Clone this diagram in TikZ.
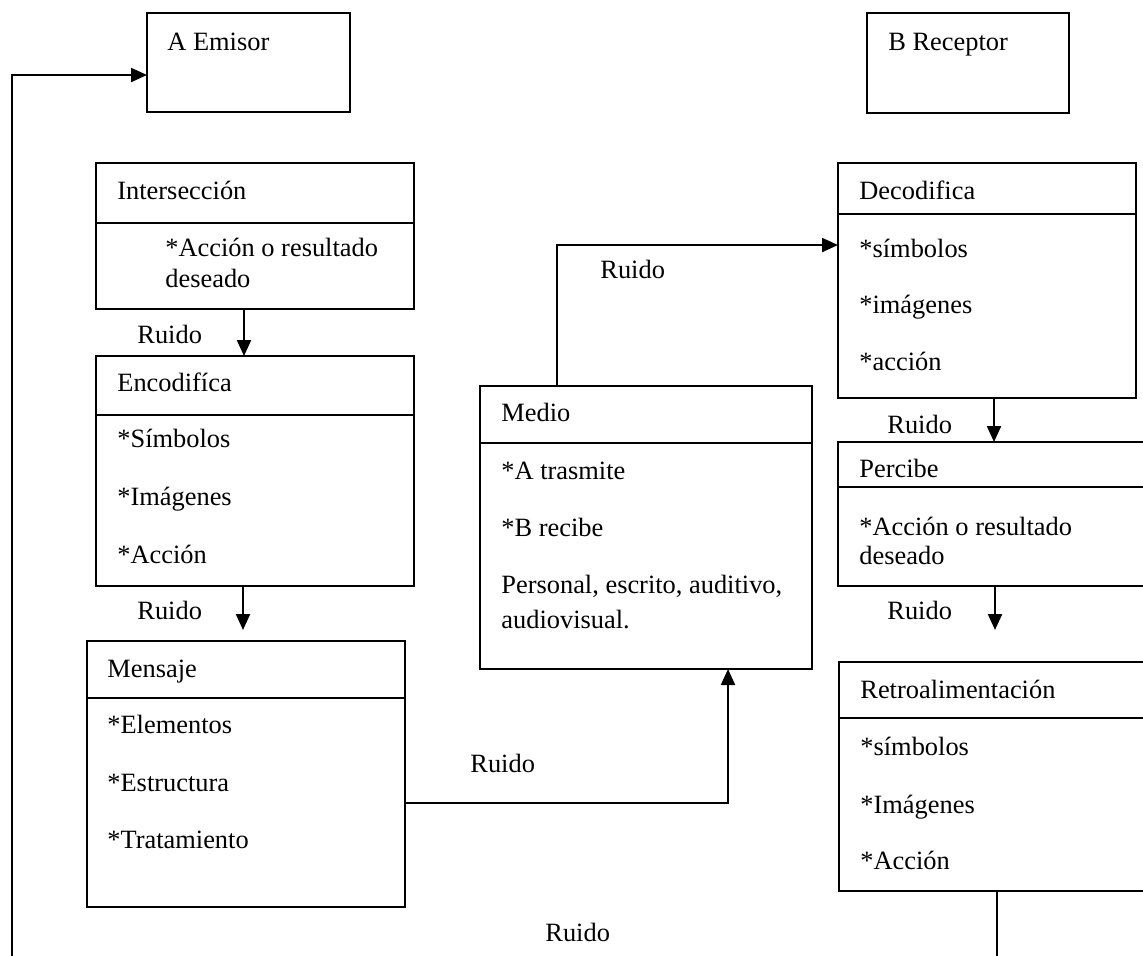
\documentclass[tikz,border=0pt]{standalone}
\usepackage{fontspec}
\setmainfont{Liberation Serif}
\usetikzlibrary{arrows.meta}
\begin{document}
\begin{tikzpicture}[x=0.5pt,y=-0.5pt,
  box/.style={draw, line width=1.1pt, inner sep=0pt, outer sep=0pt, anchor=north west},
  txt/.style={anchor=base west, inner sep=0pt, font=\fontsize{13.2pt}{15pt}\selectfont},
  link/.style={line width=1.1pt},
  arr/.style={link, -{Triangle[length=8pt,width=7pt]}},
  rule/.style={line width=1.1pt}]
\useasboundingbox (0,0) rectangle (1143,955);
\clip (0,0) rectangle (1143,955);

% boxes
\node[box, minimum width=101.5pt, minimum height=49.5pt] (emisor) at (147,13) {};
\node[box, minimum width=101pt, minimum height=50pt] (receptor) at (867,13) {};
\node[box, minimum width=159pt, minimum height=73pt] (inters) at (96,163) {};
\node[box, minimum width=159pt, minimum height=115pt] (encod) at (96,356) {};
\node[box, minimum width=159pt, minimum height=133pt] (mensaje) at (87,641) {};
\node[box, minimum width=166pt, minimum height=141.5pt] (medio) at (480,386) {};
\node[box, minimum width=149pt, minimum height=117.5pt] (decod) at (838,163) {};
\node[box, minimum width=154pt, minimum height=72pt] (percibe) at (838,442) {};
\node[box, minimum width=154pt, minimum height=114.5pt] (retro) at (839,662) {};

% title dividers
\draw[rule] (inters.west |- 0,223) -- (inters.east |- 0,223);
\draw[rule] (encod.west |- 0,415) -- (encod.east |- 0,415);
\draw[rule] (mensaje.west |- 0,698) -- (mensaje.east |- 0,698);
\draw[rule] (medio.west |- 0,443) -- (medio.east |- 0,443);
\draw[rule] (decod.west |- 0,214) -- (decod.east |- 0,214);
\draw[rule] (percibe.west |- 0,487) -- (percibe.east |- 0,487);
\draw[rule] (retro.west |- 0,718) -- (retro.east |- 0,718);

% texts
\node[txt] (tEmisor) at (167,50) {A Emisor};
\node[txt] (tReceptor) at (888,50) {B Receptor};

\node[txt] (tInters) at (117,199) {Intersección};
\node[txt] (tInters1) at (165,256) {*Acción o resultado};
\node[txt] (tInters2) at (165,287) {deseado};

\node[txt] (tEncod) at (117,391) {Encodifíca};
\node[txt] (tEncod1) at (117,447) {*Símbolos};
\node[txt] (tEncod2) at (117,505) {*Imágenes};
\node[txt] (tEncod3) at (117,563) {*Acción};

\node[txt] (tMensaje) at (107,677) {Mensaje};
\node[txt] (tMensaje1) at (107,733) {*Elementos};
\node[txt] (tMensaje2) at (107,791) {*Estructura};
\node[txt] (tMensaje3) at (107,848) {*Tratamiento};

\node[txt] (tMedio) at (501,421) {Medio};
\node[txt] (tMedio1) at (501,479) {*A trasmite};
\node[txt] (tMedio2) at (501,536) {*B recibe};
\node[txt] (tMedio3) at (501,593) {Personal, escrito, auditivo,};
\node[txt] (tMedio4) at (501,628) {audiovisual.};

\node[txt] (tDecod) at (859,199) {Decodifica};
\node[txt] (tDecod1) at (859,257) {*símbolos};
\node[txt] (tDecod2) at (859,313) {*imágenes};
\node[txt] (tDecod3) at (859,370) {*acción};

\node[txt] (tPercibe) at (859,477) {Percibe};
\node[txt] (tPercibe1) at (859,535) {*Acción o resultado};
\node[txt] (tPercibe2) at (859,564) {deseado};

\node[txt] (tRetro) at (860,698) {Retroalimentación};
\node[txt] (tRetro1) at (860,755) {*símbolos};
\node[txt] (tRetro2) at (860,813) {*Imágenes};
\node[txt] (tRetro3) at (860,869) {*Acción};

% noise labels
\node[txt] (r1) at (137,343) {Ruido};
\node[txt] (r2) at (137,619) {Ruido};
\node[txt] (r3) at (470,772) {Ruido};
\node[txt] (r4) at (545,941) {Ruido};
\node[txt] (r5) at (600,278) {Ruido};
\node[txt] (r6) at (887,433) {Ruido};
\node[txt] (r7) at (887,619) {Ruido};

% connectors
\coordinate (mtip) at (243,630);
\coordinate (rtip) at (995,630);
\coordinate (loopR) at (997,975);
\coordinate (loopL) at (12,975);

\draw[arr] (inters.south -| 244,0) -- (encod.north -| 244,0);
\draw[arr] (encod.south -| 243,0) -- (mtip);
\draw[arr] (mensaje.east |- 0,803) -| (medio.south -| 728,0);
\draw[arr] (medio.north -| 557,0) |- (decod.west |- 0,245);
\draw[arr] (decod.south -| 994,0) -- (percibe.north -| 994,0);
\draw[arr] (percibe.south -| 995,0) -- (rtip);
\draw[arr] (retro.south -| 997,0) -- (loopR) -- (loopL) -- (12,75) -- (emisor.west |- 0,75);
\end{tikzpicture}
\end{document}
